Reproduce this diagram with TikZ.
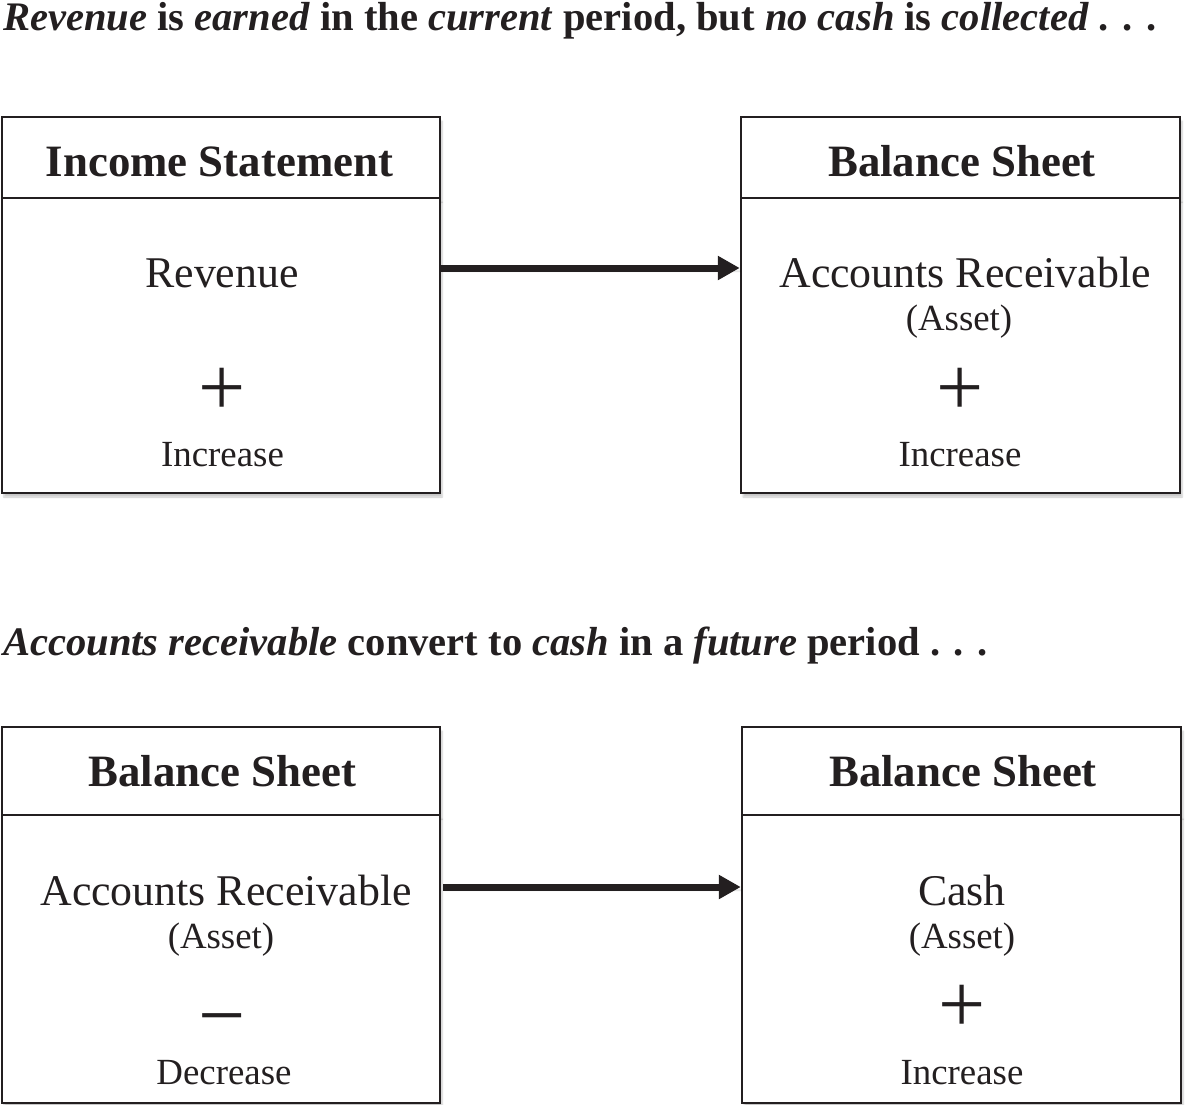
\documentclass[tikz,border=0pt]{standalone}
\usepackage{fontspec}
\setmainfont{Liberation Serif}
\usetikzlibrary{arrows.meta,shadows.blur}
\definecolor{ink}{HTML}{231F20}
\tikzset{
  x=1bp, y=1bp,
  boxpart/.style={draw=ink, line width=2.5bp, fill=white, inner sep=0pt,
    blur shadow={shadow xshift=2bp, shadow yshift=-4bp, shadow blur steps=6, shadow opacity=22}},
  headtxt/.style={anchor=base, inner sep=0pt, text=ink, font=\fontsize{45}{48}\selectfont\bfseries},
  bigtxt/.style={anchor=base, inner sep=0pt, text=ink, font=\fontsize{44}{48}\selectfont},
  smalltxt/.style={anchor=base, inner sep=0pt, text=ink, font=\fontsize{37}{40}\selectfont},
  signtxt/.style={anchor=center, inner sep=0pt, text=ink, font=\fontsize{84}{88}\selectfont},
  titletxt/.style={anchor=base west, inner sep=0pt, text=ink, font=\fontsize{40.7}{44}\selectfont\bfseries},
  arr/.style={draw=ink, line width=7bp, -{Triangle[length=22bp,width=23bp]},
    blur shadow={shadow xshift=1bp, shadow yshift=-3bp, shadow blur steps=5, shadow opacity=20}}
}
\begin{document}
\begin{tikzpicture}
\useasboundingbox (0,0) rectangle (1192,-1105);
% titles
\node[titletxt] (t1) at (3,-30) {\textit{Revenue} is \textit{earned} in the \textit{current} period, but \textit{no cash} is \textit{collected} . . .};
\node[titletxt] (t2) at (3,-655) {\textit{Accounts receivable} convert to \textit{cash} in a \textit{future} period . . .};
% box 1
\node[boxpart, minimum width=438bp, minimum height=81bp] (h1) at (221,-157.5) {};
\node[boxpart, minimum width=438bp, minimum height=295bp] (b1) at (221,-345.5) {};
% box 2
\node[boxpart, minimum width=439bp, minimum height=81bp] (h2) at (960.5,-157.5) {};
\node[boxpart, minimum width=439bp, minimum height=295bp] (b2) at (960.5,-345.5) {};
% box 3
\node[boxpart, minimum width=438bp, minimum height=88bp] (h3) at (221,-771) {};
\node[boxpart, minimum width=438bp, minimum height=288bp] (b3) at (221,-959) {};
% box 4
\node[boxpart, minimum width=439bp, minimum height=88bp] (h4) at (961.5,-771) {};
\node[boxpart, minimum width=439bp, minimum height=288bp] (b4) at (961.5,-959) {};
% texts box 1
\node[headtxt] (h1t) at (219.5,-176) {Income Statement};
\node[bigtxt] (b1a) at (222,-287) {Revenue};
\node[signtxt] (b1s) at (222,-392) {+};
\node[smalltxt] (b1c) at (222.5,-466) {Increase};
% texts box 2
\node[headtxt] (h2t) at (962,-176) {Balance Sheet};
\node[bigtxt] (b2a) at (965,-287) {Accounts Receivable};
\node[smalltxt] (b2b) at (959,-330) {(Asset)};
\node[signtxt] (b2s) at (960,-392) {+};
\node[smalltxt] (b2c) at (960,-466) {Increase};
% texts box 3
\node[headtxt] (h3t) at (222.5,-786) {Balance Sheet};
\node[bigtxt] (b3a) at (226,-905) {Accounts Receivable};
\node[smalltxt] (b3b) at (221,-948) {(Asset)};
\node[signtxt] (b3s) at (222,-1029) {−};
\node[smalltxt] (b3c) at (224,-1084) {Decrease};
% texts box 4
\node[headtxt] (h4t) at (963,-786) {Balance Sheet};
\node[bigtxt] (b4a) at (962,-905) {Cash};
\node[smalltxt] (b4b) at (962,-948) {(Asset)};
\node[signtxt] (b4s) at (962,-1009) {+};
\node[smalltxt] (b4c) at (962,-1084) {Increase};
% arrows
\coordinate (y1) at (0,-268);
\coordinate (y2) at (0,-887);
\draw[arr] (b1.east |- y1) -- (b2.west |- y1);
\draw[arr] ([xshift=2bp]b3.east |- y2) -- (b4.west |- y2);
\end{tikzpicture}
\end{document}
